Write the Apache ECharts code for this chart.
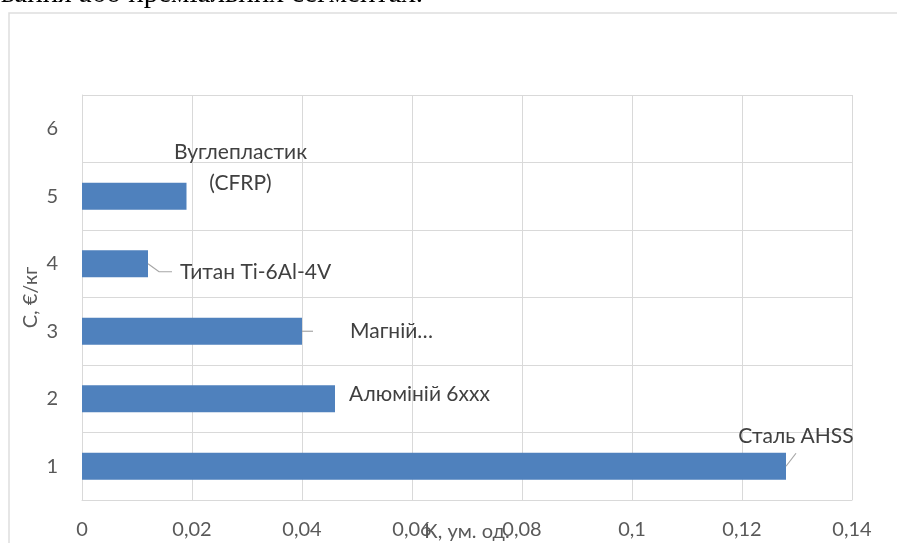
<!DOCTYPE html>
<html><head><meta charset="utf-8">
<script src="https://cdn.jsdelivr.net/npm/echarts@6/dist/echarts.min.js"></script>
<style>html,body{margin:0;padding:0;background:#fff}#c{width:897px;height:543px}</style>
</head><body><div id="c"></div>
<script>
// ---- data ----
const categories = ['1', '2', '3', '4', '5', '6'];
const values = [0.128, 0.046, 0.04, 0.012, 0.019, null];
const pointLabels = ['Сталь AHSS', 'Алюміній 6xxx', 'Магній…', 'Титан Ti-6Al-4V', 'Вуглепластик\n(CFRP)', ''];
const xTickLabels = ['0', '0,02', '0,04', '0,06', '0,08', '0,1', '0,12', '0,14'];
const xMin = 0, xMax = 0.14, xStep = 0.02;
const xTitle = 'К, ум. од.';
const yTitle = 'С, €/кг';
const headText = 'вання або преміальних сегментах.';

// ---- layout / style (not data) ----
const FONT = 'Lato';
const labelOffsets = [[5, -30], [79.5, -5], [84.5, 0], [102.6, 8], [49, -28.5], [0, 0]];
const leaderPaths = { 0: [[0, 0], [10, -13]], 2: [[0, 0], [11, 0]], 3: [[0, 0], [11, 8], [24, 8]] };

const chart = echarts.init(document.getElementById('c'), null, { renderer: 'canvas' });

const barData = values.map((v, i) => ({
  value: v,
  label: {
    show: v != null,
    formatter: pointLabels[i],
    position: 'right',
    align: 'center',
    verticalAlign: 'middle',
    offset: labelOffsets[i],
    lineHeight: i === 4 ? 31 : 24
  }
}));

const leaderData = values.map((v, i) => [v, i]).filter(d => d[0] != null && leaderPaths[d[1]]);

chart.setOption({
  animation: false,
  backgroundColor: '#ffffff',
  textStyle: { fontFamily: FONT },
  grid: { left: 82, right: 45, top: 95, bottom: 43, containLabel: false, outerBoundsMode: 'none' },
  xAxis: {
    type: 'value',
    min: xMin, max: xMax, interval: xStep,
    name: xTitle,
    nameLocation: 'middle',
    nameGap: 22,
    nameMoveOverlap: false,
    nameTextStyle: { color: '#595959', fontSize: 20, fontFamily: FONT },
    axisLine: { show: true, lineStyle: { color: '#d9d9d9', width: 1 } },
    axisTick: { show: false },
    splitLine: { show: true, lineStyle: { color: '#d9d9d9', width: 1 } },
    axisLabel: {
      color: '#595959', fontSize: 20, fontFamily: FONT, margin: 20,
      showMinLabel: true, showMaxLabel: true, hideOverlap: false,
      formatter: v => xTickLabels[Math.round((v - xMin) / xStep)]
    }
  },
  yAxis: {
    type: 'category',
    data: categories,
    name: yTitle,
    nameLocation: 'middle',
    nameGap: 41,
    nameMoveOverlap: false,
    nameTextStyle: { color: '#595959', fontSize: 20, fontFamily: FONT },
    axisLine: { show: true, lineStyle: { color: '#d9d9d9', width: 1 } },
    axisTick: { show: false },
    splitLine: { show: true, lineStyle: { color: '#d9d9d9', width: 1 } },
    axisLabel: { color: '#595959', fontSize: 20, fontFamily: FONT, margin: 24 }
  },
  series: [
    {
      type: 'bar',
      data: barData,
      barCategoryGap: '60%',
      itemStyle: { color: '#4F81BD' },
      label: { color: '#404040', fontSize: 21, fontFamily: FONT },
      z: 2
    },
    {
      type: 'custom',
      data: leaderData,
      encode: { x: 0, y: 1 },
      z: 3,
      silent: true,
      renderItem: function (params, api) {
        const idx = api.value(1);
        const path = leaderPaths[idx];
        if (!path) return null;
        const p = api.coord([api.value(0), idx]);
        return {
          type: 'polyline',
          shape: { points: path.map(d => [p[0] + d[0], p[1] + d[1]]) },
          style: { stroke: '#a6a6a6', lineWidth: 1.2, fill: null }
        };
      }
    }
  ],
  graphic: [
    {
      type: 'rect',
      shape: { x: 9, y: 13, width: 900, height: 600 },
      style: { fill: null, stroke: '#dedede', lineWidth: 1.5 },
      silent: true, z: 0
    },
    {
      type: 'text',
      left: 1, top: -20,
      style: { text: headText, font: '29px "Liberation Serif"', fill: '#000000' },
      silent: true
    }
  ]
});
</script>
</body></html>
